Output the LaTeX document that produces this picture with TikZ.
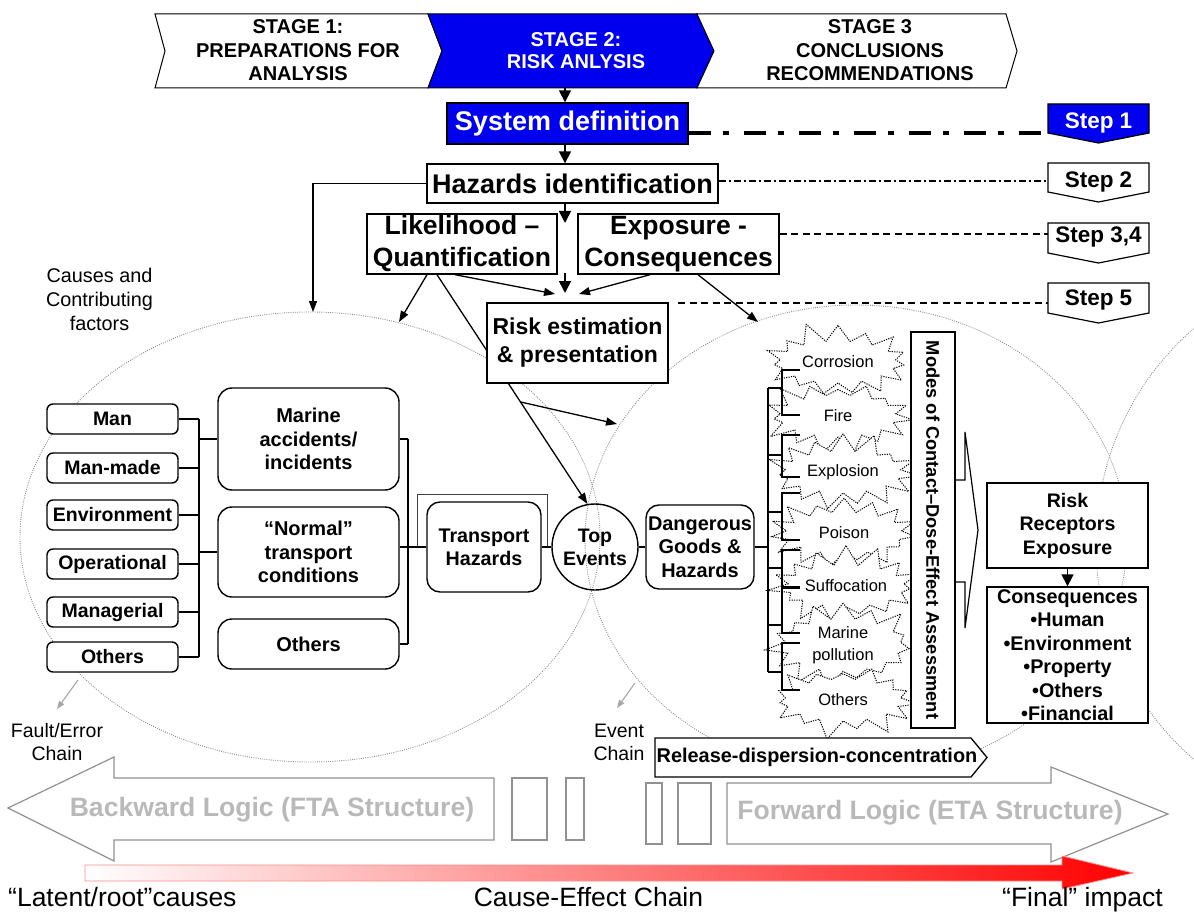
\documentclass[tikz,border=0pt]{standalone}
\usepackage{fontspec}
\setmainfont{Liberation Sans}
\usetikzlibrary{arrows.meta,shapes.symbols,shapes.geometric,calc}
\definecolor{sblue}{RGB}{0,0,238}
\definecolor{ellgray}{RGB}{140,140,140}
\definecolor{logictext}{RGB}{185,185,185}
\definecolor{logicline}{RGB}{145,145,145}
\newcommand{\myfs}[2]{\fontsize{#1}{#2}\selectfont}
\pgfdeclarelayer{back}
\pgfdeclarelayer{mid}
\pgfsetlayers{back,mid,main}
\begin{document}
\begin{tikzpicture}[x=1pt,y=-1pt,
  box/.style={draw, line width=1.4pt, fill=white, inner sep=0pt, align=center},
  rbox/.style={box, rounded corners=6pt},
  bigbox/.style={box, font=\bfseries\myfs{26.5}{32}},
  itembox/.style={rbox, minimum width=131pt, minimum height=30pt, font=\bfseries\myfs{19.5}{23}},
  midbox/.style={box, rounded corners=14pt, minimum width=181pt, font=\bfseries\myfs{20}{23.5}},
  ln/.style={line width=1.3pt},
  bigarr/.style={line width=1.6pt, -{Triangle[width=12pt,length=12pt]}},
  thinarr/.style={line width=1.3pt, -{Triangle[width=8pt,length=11pt]}},
  grayarr/.style={line width=1.1pt, draw=gray!70, -{Triangle[width=6pt,length=8pt]}},
  ell/.style={draw=ellgray, line width=0.9pt, dash pattern=on 0.9pt off 1.3pt},
  chev/.style={draw, line width=1pt},
  stepbox/.style={draw, line width=1.2pt},
  steptext/.style={font=\bfseries\myfs{22.5}{26}},
  burst/.style={starburst, starburst points=15, starburst point height=21pt, draw, fill=white,
     line width=1pt, dash pattern=on 1.2pt off 1.2pt, minimum width=158pt, minimum height=84pt,
     inner sep=0pt, align=center, font=\myfs{16.5}{22}},
  logicshape/.style={draw=logicline, line width=1.2pt},
  logictxt/.style={text=logictext, font=\bfseries\myfs{26.6}{30}},
  plaintxt/.style={align=center, inner sep=0pt},
]
\useasboundingbox (0,0) rectangle (1194,912);

% ---------- background ellipses ----------
\begin{pgfonlayer}{back}
\draw[ell] (310,537) ellipse [x radius=290, y radius=225];
\draw[ell] (856,540) ellipse [x radius=271, y radius=235];
\draw[ell] (1367,544) ellipse [x radius=271, y radius=280];
\end{pgfonlayer}

% ---------- stages ----------
\draw[chev, fill=white] (155,14) -- (428,14) -- (442,51) -- (428,88) -- (155,88) -- (165,51) -- cycle;
\draw[chev, fill=sblue] (428,14) -- (697,14) -- (714,51) -- (697,88) -- (428,88) -- (442,51) -- cycle;
\draw[chev, fill=white] (697,14) -- (1006,14) -- (1017,51) -- (1006,88) -- (697,88) -- (714,51) -- cycle;
\node[plaintxt, font=\bfseries\myfs{20}{23.5}] (st1) at (298,50.5) {STAGE 1:\\PREPARATIONS FOR\\ANALYSIS};
\node[plaintxt, font=\bfseries\myfs{20}{22}, text=white] (st2) at (576,51) {STAGE 2:\\RISK ANLYSIS};
\node[plaintxt, font=\bfseries\myfs{20}{23.5}] (st3) at (870,50.5) {STAGE 3\\CONCLUSIONS\\RECOMMENDATIONS};
\coordinate (cx) at (565,0);
\coordinate (st2b) at (565,88);

% ---------- main column ----------
\node[box, fill=sblue, text=white, minimum width=241pt, minimum height=41pt, font=\bfseries\myfs{27}{32}] (sys) at (567.5,123.5) {System definition};
\node[box, minimum width=291pt, minimum height=39pt, font=\bfseries\myfs{27}{32}] (haz) at (572.5,183.5) {Hazards identification};
\node[bigbox, minimum width=190pt, minimum height=60pt] (lik) at (462,244) {Likelihood –\\Quantification};
\node[bigbox, minimum width=201pt, minimum height=60pt] (exp) at (678.5,244) {Exposure -\\Consequences};
\node[box, minimum width=181pt, minimum height=80pt, font=\bfseries\myfs{23}{28}] (risk) at (577.5,343) {Risk estimation\\\& presentation};

% ---------- steps ----------
\draw[stepbox, fill=sblue] (1048,104) -- (1149,104) -- (1149,133) -- (1098.5,143) -- (1048,133) -- cycle;
\draw[stepbox, fill=white] (1048,163) -- (1149,163) -- (1149,192) -- (1098.5,202) -- (1048,192) -- cycle;
\draw[stepbox, fill=white] (1048,223) -- (1149,223) -- (1149,253) -- (1098.5,263) -- (1048,253) -- cycle;
\draw[stepbox, fill=white] (1048,283) -- (1149,283) -- (1149,313) -- (1098.5,323) -- (1048,313) -- cycle;
\node[steptext, text=white] (s1t) at (1098.5,123) {Step 1};
\node[steptext] (s2t) at (1098.5,182) {Step 2};
\node[steptext] (s3t) at (1098.5,237) {Step 3,4};
\node[steptext] (s5t) at (1098.5,300) {Step 5};
\coordinate (s1l) at (1048,133);
\coordinate (s2l) at (1048,181);
\coordinate (s3l) at (1048,234);
\coordinate (s5l) at (1048,303);
\coordinate (s5s) at (678,303);
\draw[line width=4.3pt, dash pattern=on 22pt off 12pt on 6pt off 15pt] (sys.east |- s1l) -- (s1l);
\draw[line width=1.1pt, dash pattern=on 7pt off 3pt on 2pt off 3pt] (haz.east |- s2l) -- (s2l);
\draw[line width=1.4pt, dash pattern=on 7pt off 4.5pt] (exp.east |- s3l) -- (s3l);
\draw[line width=1.4pt, dash pattern=on 7pt off 4.5pt] (s5s) -- (s5l);

% ---------- left side ----------
\node[plaintxt, font=\myfs{19.8}{24}] (causes) at (99.5,299) {Causes and\\Contributing\\factors};
\node[itembox] (L1) at (112.5,419) {Man};
\node[itembox] (L2) at (112.5,468) {Man-made};
\node[itembox] (L3) at (112.5,515) {Environment};
\node[itembox] (L4) at (112.5,564) {Operational};
\node[itembox] (L5) at (112.5,612) {Managerial};
\node[itembox] (L6) at (112.5,657) {Others};
\node[midbox, minimum height=102pt] (M1) at (308.5,439) {Marine\\accidents/\\incidents};
\node[midbox, minimum height=90pt] (M2) at (308.5,552) {“Normal”\\transport\\conditions};
\node[midbox, minimum height=50pt] (M3) at (308.5,644) {Others};
\coordinate (bl) at (199,0);
\coordinate (br) at (408,0);
\foreach \n in {L1,L2,L3,L4,L5,L6} \draw[ln] (\n.east) -- (\n.east -| bl);
\draw[ln] (bl |- L1.east) -- (bl |- L6.east);
\draw[ln] (bl |- M1.west) -- (M1.west);
\draw[ln] (bl |- M2.west) -- (M2.west);

% ---------- transport / top events ----------
\draw[line width=1pt, draw=black!75] (417,547) -- (417,494) -- (547,494) -- (547,547);
\node[box, rounded corners=13pt, minimum width=114pt, minimum height=90pt, font=\bfseries\myfs{19.7}{23}] (th) at (484,547) {Transport\\Hazards};
\node[circle, draw, line width=1.4pt, minimum size=86pt, inner sep=0pt, align=center, font=\bfseries\myfs{19.5}{23}] (te) at (595,547) {Top\\Events};
\node[box, rounded corners=13pt, minimum width=108pt, minimum height=84pt, font=\bfseries\myfs{19.9}{23.5}] (dg) at (700,547) {Dangerous\\Goods \&\\Hazards};
\draw[ln] (M1.east) -- (M1.east -| br);
\draw[ln] (M3.east) -- (M3.east -| br);
\draw[ln] (br |- M1.east) -- (br |- M3.east);
\draw[ln] (M2.east |- th.west) -- (th.west);
\draw[ln] (th.east) -- (te.west);
\draw[ln] (te.east) -- (dg.west);

% ---------- stars ----------
\node[burst, random starburst=11] (c1) at (838,362) {Corrosion};
\node[burst, random starburst=23] (c2) at (838,416) {Fire};
\node[burst, random starburst=37] (c3) at (843,472) {Explosion};
\node[burst, random starburst=41] (c4) at (844,533) {Poison};
\node[burst, random starburst=53] (c5) at (846,586) {Suffocation};
\node[burst, random starburst=67] (c6) at (843,645) {Marine\\pollution};
\node[burst, random starburst=79] (c7) at (843,700) {Others};
\coordinate (bd) at (768,0);
\draw[ln] (dg.east) -- (dg.east -| bd);
\draw[ln] (768,388) -- (768,672);
\foreach \y in {388,455,512,568,625,672} \draw[ln] (768,\y) -- (781,\y);
\foreach \a/\b in {370/415,435/477,493/540,550/587,588/633,643/690}
  \draw[ln] (800,\a) -- (782,\a) -- (782,\b) -- (800,\b);

% ---------- modes & receptors ----------
\node[box, rotate=-90, minimum width=396pt, minimum height=44pt, font=\bfseries\myfs{18.3}{22}] (modes) at (933,530) {Modes of Contact–Dose-Effect Assessment};
\draw[line width=1.2pt] (955,480) -- (965,480) -- (965,432) -- (978,530) -- (965,628) -- (965,582) -- (955,582);
\node[box, minimum width=161pt, minimum height=85pt, font=\bfseries\myfs{19.6}{23.5}] (rr) at (1067.5,525.5) {Risk\\Receptors\\Exposure};
\node[box, minimum width=161pt, minimum height=136pt, font=\bfseries\myfs{19.8}{23.5}] (cons) at (1067.5,655) {Consequences\\•Human\\•Environment\\•Property\\•Others\\•Financial};
\draw[bigarr] (rr.south) -- (cons.north);

% ---------- release ----------
\draw[line width=1.3pt, fill=white] (655,738) -- (971,738) -- (987,757.5) -- (971,777) -- (655,777) -- cycle;
\node[plaintxt, font=\bfseries\myfs{19.9}{23}] (rel) at (817,757.5) {Release-dispersion-concentration};

% ---------- chain labels ----------
\node[plaintxt, font=\myfs{19.5}{23}] (fault) at (57,742.5) {Fault/Error\\Chain};
\node[plaintxt, font=\myfs{19.5}{23}] (event) at (619,742.5) {Event\\Chain};
\coordinate (fa1) at (78,680); \coordinate (fa2) at (57,709);
\coordinate (ev1) at (635,683); \coordinate (ev2) at (617,708);
\draw[grayarr] (fa1) -- (fa2);
\draw[grayarr] (ev1) -- (ev2);

% ---------- logic arrows ----------
\draw[logicshape] (494,778) -- (114,778) -- (114,757) -- (8,808) -- (114,861) -- (114,840) -- (494,840) -- cycle;
\draw[logicshape] (512,778) rectangle (547,840);
\draw[logicshape] (566,778) rectangle (584,840);
\node[logictxt] (back) at (272,810) {Backward Logic (FTA Structure)};
\draw[logicshape] (646,783) rectangle (662,844);
\draw[logicshape] (678,783) rectangle (711,844);
\draw[logicshape] (727,783) -- (1051,783) -- (1051,767) -- (1168,814) -- (1051,862) -- (1051,844) -- (727,844) -- cycle;
\node[logictxt] (fwd) at (930,813) {Forward Logic (ETA Structure)};

% ---------- red cause-effect arrow ----------
\shade[left color=white, right color=red, draw=red!45, line width=0.8pt]
  (85,865) -- (1062,865) -- (1062,856) -- (1133,873) -- (1062,889) -- (1062,881) -- (85,881) -- cycle;
\node[anchor=base west, inner sep=0pt, font=\myfs{26.5}{30}] (latent) at (8,906) {“Latent/root”causes};
\node[anchor=base, inner sep=0pt, font=\myfs{26.5}{30}] (cec) at (588.5,906) {Cause-Effect Chain};
\node[anchor=base west, inner sep=0pt, font=\myfs{26.5}{30}] (final) at (1002,906) {“Final” impact};

% ---------- connectors ----------
\coordinate (g1) at (565,223);
\coordinate (g2) at (565,273);
\coordinate (g3) at (565,293);
\coordinate (cv1) at (555,294);
\coordinate (cv2) at (579,294);
\coordinate (e1t) at (313,312);
\coordinate (e1r) at (399,322);
\coordinate (e2t) at (758,322);
\begin{pgfonlayer}{mid}
\draw[bigarr] (st2b) -- (sys.north -| cx);
\draw[bigarr] (sys.south -| cx) -- (haz.north -| cx);
\draw[bigarr] (haz.south -| cx) -- (g1);
\draw[bigarr] (g2) -- (g3);
\draw[thinarr] (haz.west) -| (e1t);
\draw[thinarr] ([xshift=-35pt]lik.south) -- (e1r);
\draw[thinarr] ([xshift=-7pt]lik.south) -- (cv1);
\draw[thinarr] ([xshift=-28.5pt]exp.south) -- (cv2);
\draw[thinarr] ([xshift=19.5pt]exp.south) -- (e2t);
\draw[thinarr] ([xshift=-25pt]lik.south) -- (te.100);
\coordinate (brp) at ($([xshift=-25pt]lik.south)!0.555!(te.100)$);
\coordinate (e2l) at (617,424);
\draw[thinarr] (brp) -- (e2l);
\end{pgfonlayer}
\end{tikzpicture}
\end{document}
